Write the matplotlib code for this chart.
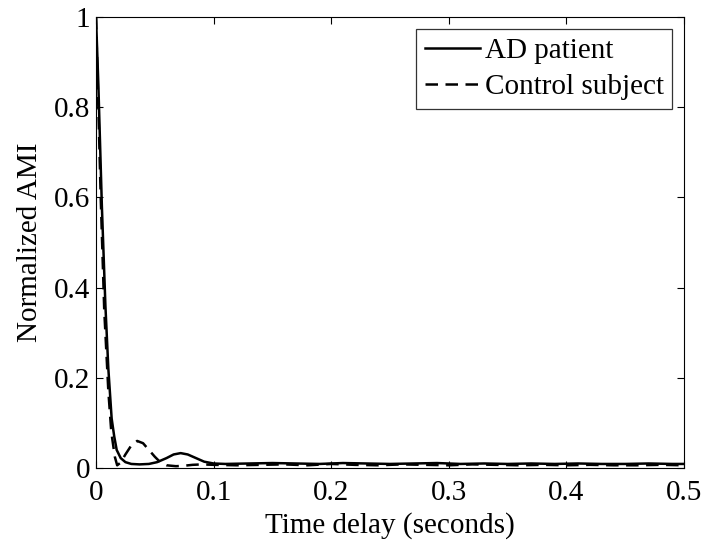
import matplotlib.pyplot as plt
import numpy as np

plt.rcParams['font.family'] = ['Liberation Serif', 'DejaVu Serif']
plt.rcParams['font.size'] = 21

# AD patient (solid)
ad_t = [0, 0.002, 0.005, 0.008, 0.0105, 0.0133, 0.0155, 0.0176, 0.021, 0.025,
        0.03, 0.037, 0.045, 0.052, 0.06, 0.066, 0.072, 0.078, 0.085, 0.092,
        0.1, 0.11, 0.13, 0.15, 0.17, 0.19, 0.21, 0.23, 0.25, 0.27, 0.29,
        0.31, 0.33, 0.35, 0.37, 0.39, 0.41, 0.43, 0.45, 0.47, 0.49, 0.5]
ad_v = [1.0, 0.85, 0.58, 0.36, 0.22, 0.11, 0.07, 0.04, 0.022, 0.013,
        0.009, 0.008, 0.009, 0.013, 0.022, 0.03, 0.033, 0.03, 0.022, 0.014,
        0.01, 0.009, 0.01, 0.011, 0.01, 0.009, 0.011, 0.01, 0.009, 0.01, 0.011,
        0.009, 0.01, 0.009, 0.01, 0.009, 0.01, 0.009, 0.009, 0.01, 0.009, 0.009]

# Control subject (dashed)
ct_t = [0, 0.002, 0.004, 0.007, 0.0105, 0.013, 0.016, 0.018, 0.021, 0.025,
        0.03, 0.035, 0.04, 0.045, 0.05, 0.055, 0.06, 0.068, 0.075, 0.082,
        0.09, 0.1, 0.12, 0.14, 0.16, 0.18, 0.2, 0.22, 0.24, 0.26, 0.28,
        0.3, 0.32, 0.34, 0.36, 0.38, 0.4, 0.42, 0.44, 0.46, 0.48, 0.5]
ct_v = [1.0, 0.8, 0.6, 0.35, 0.17, 0.08, 0.025, 0.006, 0.012, 0.03,
        0.05, 0.06, 0.055, 0.04, 0.025, 0.012, 0.006, 0.004, 0.005, 0.007,
        0.008, 0.007, 0.006, 0.007, 0.008, 0.006, 0.009, 0.007, 0.006, 0.008, 0.007,
        0.006, 0.008, 0.007, 0.006, 0.007, 0.006, 0.007, 0.006, 0.006, 0.007, 0.006]

fig = plt.figure(figsize=(7.02, 5.44), dpi=100)
ax = fig.add_axes([96/702, 76/544, 588/702, 451/544])

ax.plot(ad_t, ad_v, 'k-', lw=1.8, label='AD patient')
ax.plot(ct_t, ct_v, 'k--', lw=1.8, dashes=(5, 3), label='Control subject')

ax.set_xlim(0, 0.5)
ax.set_ylim(0, 1)
ax.set_xticks([0, 0.1, 0.2, 0.3, 0.4, 0.5])
ax.set_xticklabels(['0', '0.1', '0.2', '0.3', '0.4', '0.5'])
ax.set_yticks([0, 0.2, 0.4, 0.6, 0.8, 1])
ax.set_yticklabels(['0', '0.2', '0.4', '0.6', '0.8', '1'])
ax.tick_params(direction='in', top=True, right=True, length=5)
ax.tick_params(axis='x', pad=9)
ax.tick_params(axis='y', pad=4)
ax.set_xlabel('Time delay (seconds)', labelpad=4)
ax.set_ylabel('Normalized AMI', labelpad=8)

leg = ax.legend(loc='upper right', fancybox=False, edgecolor='black',
                handlelength=1.9, handletextpad=0.15, borderpad=0.3,
                labelspacing=0.35, borderaxespad=0.4)
leg.get_frame().set_linewidth(0.9)

fig.savefig('out.png', dpi=100)
